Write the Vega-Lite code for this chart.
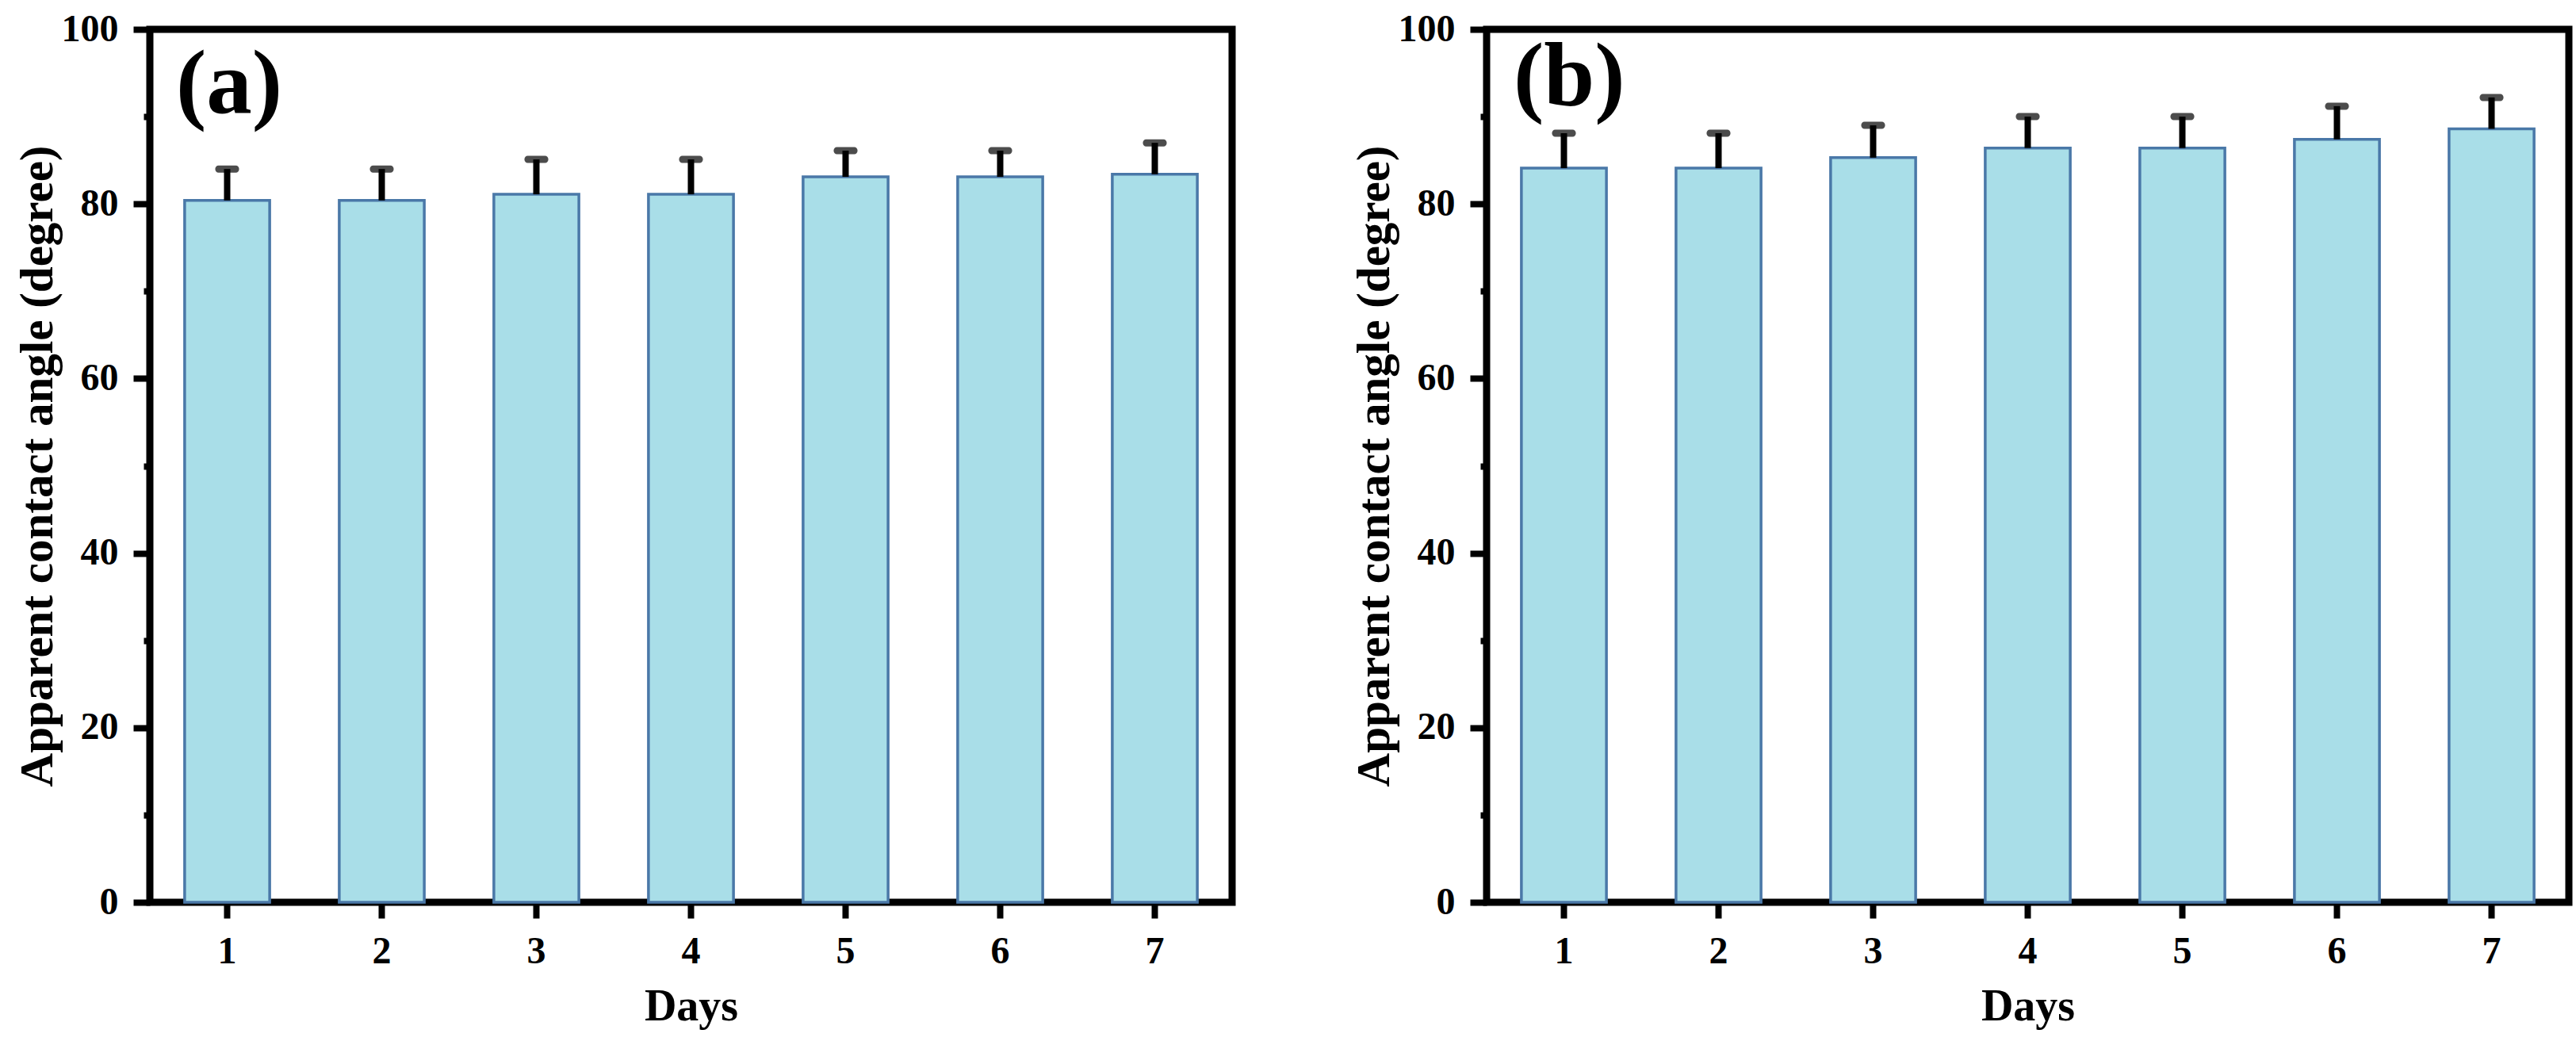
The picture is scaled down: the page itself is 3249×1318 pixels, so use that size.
{
  "$schema": "https://vega.github.io/schema/vega-lite/v6.json",
  "background": "white",
  "padding": {"left": 13, "top": 8, "right": 10, "bottom": 10},
  "spacing": 140,
  "config": {
    "view": {"stroke": "black", "strokeWidth": 9},
    "font": "Liberation Serif",
    "axis": {
      "domain": false,
      "grid": false,
      "labelFont": "Liberation Serif",
      "titleFont": "Liberation Serif",
      "labelFontSize": 48,
      "labelFontWeight": "bold",
      "titleFontWeight": "bold",
      "labelColor": "black",
      "titleColor": "black",
      "tickColor": "black",
      "tickWidth": 8
    },
    "axisX": {"labelAngle": 0, "tickSize": 20, "labelPadding": 18, "titlePadding": 18, "titleFontSize": 56},
    "axisY": {"titleFontSize": 59, "titlePadding": 0}
  },
  "datasets": {
    "a": [
      {"day": 1, "angle": 80.4, "upper": 84.0},
      {"day": 2, "angle": 80.4, "upper": 84.0},
      {"day": 3, "angle": 81.1, "upper": 85.1},
      {"day": 4, "angle": 81.1, "upper": 85.1},
      {"day": 5, "angle": 83.1, "upper": 86.1},
      {"day": 6, "angle": 83.1, "upper": 86.1},
      {"day": 7, "angle": 83.4, "upper": 87.0}
    ],
    "b": [
      {"day": 1, "angle": 84.1, "upper": 88.1},
      {"day": 2, "angle": 84.1, "upper": 88.1},
      {"day": 3, "angle": 85.3, "upper": 89.0},
      {"day": 4, "angle": 86.4, "upper": 90.0},
      {"day": 5, "angle": 86.4, "upper": 90.0},
      {"day": 6, "angle": 87.4, "upper": 91.2},
      {"day": 7, "angle": 88.6, "upper": 92.2}
    ]
  },
  "hconcat": [
    {
      "width": 1365,
      "height": 1101,
      "layer": [
        {
          "data": {"name": "a"},
          "mark": {"type": "bar", "fill": "#a9dee8", "stroke": "#4a78a8", "strokeWidth": 3.5},
          "encoding": {
            "x": {"field": "day", "type": "ordinal", "title": "Days", "scale": {"paddingInner": 0.45, "paddingOuter": 0.225}},
            "y": {"field": "angle", "type": "quantitative", "title": "Apparent contact angle (degree)",
              "scale": {"domain": [0, 100], "nice": false},
              "axis": {"values": [0, 10, 20, 30, 40, 50, 60, 70, 80, 90, 100],
                "labelExpr": "datum.value % 20 === 0 ? datum.label : ''",
                "tickSize": {"condition": {"test": "datum.value % 20 === 0", "value": 21}, "value": 8},
                "labelPadding": 19}}
          }
        },
        {
          "data": {"name": "a"},
          "mark": {"type": "rule", "color": "black", "strokeWidth": 8},
          "encoding": {
            "x": {"field": "day", "type": "ordinal"},
            "y": {"field": "angle", "type": "quantitative"},
            "y2": {"field": "upper"}
          }
        },
        {
          "data": {"name": "a"},
          "mark": {"type": "tick", "color": "black", "thickness": 9, "size": 30, "cornerRadius": 4},
          "encoding": {
            "x": {"field": "day", "type": "ordinal"},
            "y": {"field": "upper", "type": "quantitative"}
          }
        },
        {
          "data": {"values": [{"label": "(a)"}]},
          "mark": {"type": "text", "align": "left", "baseline": "alphabetic", "fontSize": 115, "fontWeight": "bold", "font": "Liberation Serif", "color": "black", "dx": -11},
          "encoding": {
            "x": {"datum": 1, "type": "ordinal", "bandPosition": 0},
            "y": {"datum": 90.5, "type": "quantitative"},
            "text": {"field": "label"}
          }
        }
      ]
    },
    {
      "width": 1365,
      "height": 1101,
      "layer": [
        {
          "data": {"name": "b"},
          "mark": {"type": "bar", "fill": "#a9dee8", "stroke": "#4a78a8", "strokeWidth": 3.5},
          "encoding": {
            "x": {"field": "day", "type": "ordinal", "title": "Days", "scale": {"paddingInner": 0.45, "paddingOuter": 0.225}},
            "y": {"field": "angle", "type": "quantitative", "title": "Apparent contact angle (degree)",
              "scale": {"domain": [0, 100], "nice": false},
              "axis": {"values": [0, 10, 20, 30, 40, 50, 60, 70, 80, 90, 100],
                "labelExpr": "datum.value % 20 === 0 ? datum.label : ''",
                "tickSize": {"condition": {"test": "datum.value % 20 === 0", "value": 21}, "value": 8},
                "labelPadding": 19}}
          }
        },
        {
          "data": {"name": "b"},
          "mark": {"type": "rule", "color": "black", "strokeWidth": 8},
          "encoding": {
            "x": {"field": "day", "type": "ordinal"},
            "y": {"field": "angle", "type": "quantitative"},
            "y2": {"field": "upper"}
          }
        },
        {
          "data": {"name": "b"},
          "mark": {"type": "tick", "color": "black", "thickness": 9, "size": 30, "cornerRadius": 4},
          "encoding": {
            "x": {"field": "day", "type": "ordinal"},
            "y": {"field": "upper", "type": "quantitative"}
          }
        },
        {
          "data": {"values": [{"label": "(b)"}]},
          "mark": {"type": "text", "align": "left", "baseline": "alphabetic", "fontSize": 115, "fontWeight": "bold", "font": "Liberation Serif", "color": "black", "dx": -10},
          "encoding": {
            "x": {"datum": 1, "type": "ordinal", "bandPosition": 0},
            "y": {"datum": 91.3, "type": "quantitative"},
            "text": {"field": "label"}
          }
        }
      ]
    }
  ]
}
